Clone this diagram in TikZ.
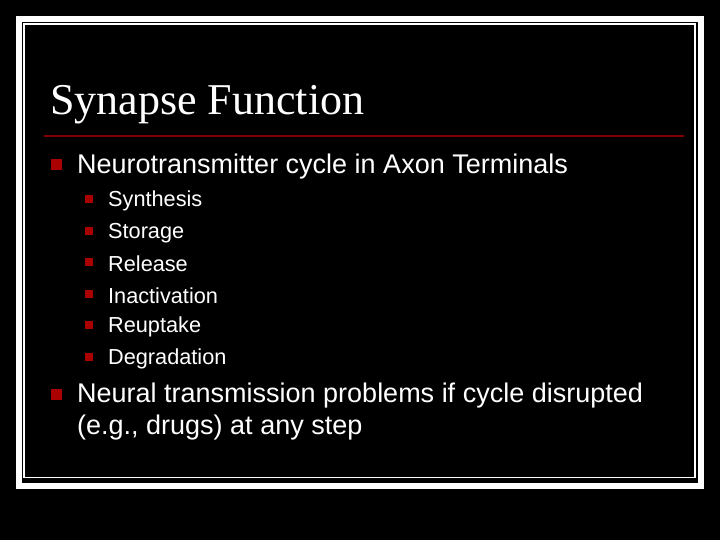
\documentclass[tikz,border=0pt]{standalone}
\usepackage{fontspec}
\setmainfont{Liberation Sans}
\newfontfamily\titlefont{Liberation Serif}
\definecolor{dred}{RGB}{128,0,0}
\definecolor{bred}{RGB}{170,0,0}
\begin{document}
\begin{tikzpicture}[x=1pt,y=-1pt,
  bigb/.style={fill=bred,minimum size=11pt,inner sep=0pt},
  smallb/.style={fill=bred,minimum size=8pt,inner sep=0pt},
  lone/.style={anchor=west,text=white,font=\fontsize{27}{32}\selectfont,inner sep=0pt,align=left},
  ltwo/.style={anchor=west,text=white,font=\fontsize{21.7}{26}\selectfont,inner sep=0pt}]
\fill[black] (0,0) rectangle (720,540);
\useasboundingbox (0,0) rectangle (720,540);
\draw[white,line width=6pt] (19,19) rectangle (701,486);
\draw[white,line width=1.6pt] (24,24) rectangle (695,477.5);
\node[anchor=base west,text=white,font=\titlefont\fontsize{44}{48}\selectfont,inner sep=0pt] (t) at (50,115) {Synapse Function};
\draw[dred,line width=1.5pt] (44,136) -- (684,136);
\node[bigb] (b1) at (56,165) {};
\node[lone] (l1) at (77,167) {Neurotransmitter cycle in Axon Terminals};
\foreach \y/\t [count=\i] in {199/Synthesis,231/Storage,262/Release,294/Inactivation,325/Reuptake,357/Degradation}{
  \node[smallb] (s\i) at (89,\y) {};
  \node[ltwo] (u\i) at (108,\y+2) {\t};
}
\node[bigb] (b2) at (56,394) {};
\node[lone] (l2) at (77,412) {Neural transmission problems if cycle disrupted\\(e.g., drugs) at any step};
\end{tikzpicture}
\end{document}
